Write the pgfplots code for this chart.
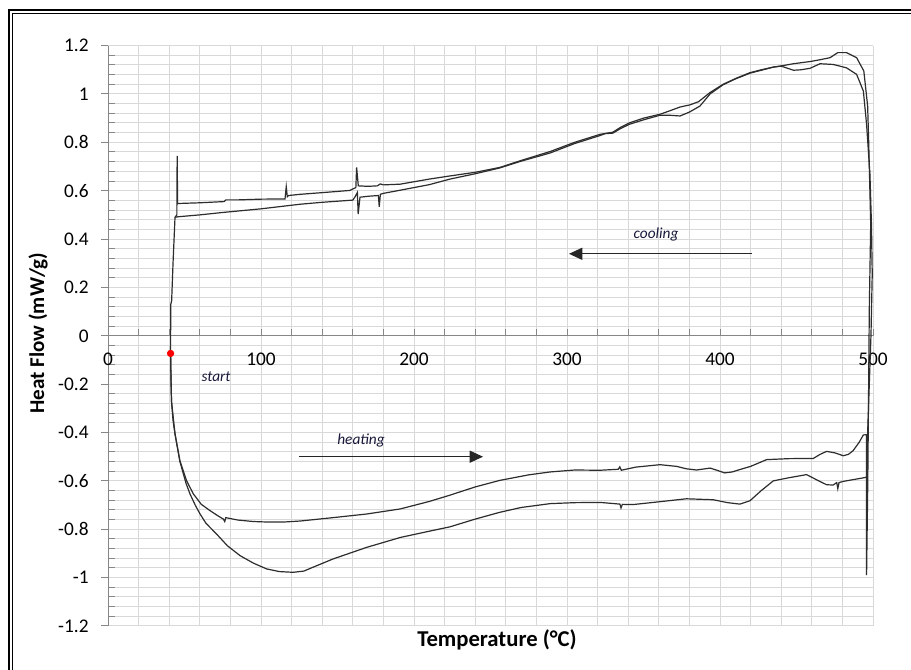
\documentclass[border=0pt]{standalone}
\usepackage{pgfplots}
\pgfplotsset{compat=1.18}
\usepackage{fontspec}
\setmainfont{Carlito}
\usetikzlibrary{arrows.meta}
\definecolor{gridgray}{RGB}{217,217,217}
\definecolor{axgray}{RGB}{134,134,134}
\definecolor{curve}{RGB}{45,45,45}
\definecolor{annot}{RGB}{25,25,60}
\begin{document}
\begin{tikzpicture}[x=1pt,y=1pt]
\useasboundingbox (0,0) rectangle (683.25,502.5);
\fill[white] (0,0) rectangle (683.25,502.5);
\draw[line width=1.6pt] (6.6,-5) -- (6.6,495) -- (690,495);
\draw[line width=0.6pt] (9.3,-5) -- (9.3,492.3) -- (690,492.3);
\begin{axis}[
  at={(81pt,33pt)}, anchor=south west,
  scale only axis, width=573.75pt, height=435.3pt,
  xmin=0, xmax=500, ymin=-1.2, ymax=1.2,
  axis x line*=middle, axis y line*=left,
  hide obscured x ticks=false, hide obscured y ticks=false,
  xtick={0,100,200,300,400,500}, minor x tick num=4,
  ytick={-1.2,-1.0,-0.8,-0.6,-0.4,-0.2,0,0.2,0.4,0.6,0.8,1.0,1.2}, minor y tick num=4,
  grid=both,
  major grid style={gridgray, line width=0.75pt},
  minor grid style={gridgray, line width=0.75pt},
  axis line style={axgray, line width=0.75pt},
  tick style={axgray, line width=0.75pt},
  major tick length=5pt, minor tick length=5pt,
  xtick align=inside, ytick align=outside,
  minor y tick style={xshift=5pt},
  tick label style={font=\fontsize{14.5}{17}\selectfont, text=black},
  /pgf/number format/assume math mode=true,
  yticklabel style={/pgf/number format/fixed, /pgf/number format/precision=1, xshift=-6pt},
  xticklabel style={yshift=-9pt},
  clip=false,
]
% cycle 1: heating (upper) then cooling
\addplot[curve, line width=0.9pt] table {
40.9 -0.073
41.2 -0.2
41.5 -0.27
42.5 -0.35
43.8 -0.406
47 -0.517
51.4 -0.6
55.8 -0.654
61 -0.697
66.7 -0.723
72 -0.745
75.4 -0.758
76.3 -0.768
77 -0.752
85 -0.762
95 -0.768
103.7 -0.770
115 -0.770
125.5 -0.766
147 -0.752
169 -0.737
191 -0.716
210 -0.685
223 -0.66
240 -0.625
256 -0.598
275 -0.575
289 -0.563
305 -0.555
321.6 -0.556
333.5 -0.552
334.5 -0.542
335.5 -0.556
345 -0.543
360.8 -0.533
371.7 -0.54
378 -0.55
384.7 -0.555
393.5 -0.547
398 -0.556
403 -0.567
408 -0.563
413 -0.553
420 -0.54
430.5 -0.512
445 -0.508
461 -0.507
465.5 -0.49
469.7 -0.478
475 -0.484
480.6 -0.496
484 -0.49
487 -0.475
491 -0.44
493.7 -0.41
495.8 -0.409
495.8 -0.99
496.6 -0.6
497.6 0.117
498.5 0.461
497.2 0.8
496.5 0.95
494 1.095
489.3 1.15
482.7 1.171
477 1.171
471.9 1.15
465 1.141
458.8 1.134
448 1.125
440 1.116
434.8 1.111
427 1.1
419.6 1.088
411 1.066
402 1.04
393.5 1.006
386 0.968
380.4 0.955
373.9 0.946
367 0.93
360.8 0.916
350 0.9
341 0.881
335 0.862
330 0.842
321.6 0.833
305 0.8
289 0.762
270 0.725
256 0.696
240 0.676
223.5 0.661
210 0.648
191 0.627
180 0.624
178 0.628
176 0.62
170 0.618
163.6 0.62
162.5 0.696
162 0.613
158 0.601
140 0.592
125.5 0.585
118 0.58
117.2 0.575
116.5 0.617
115.7 0.566
100 0.565
85 0.562
77 0.562
76 0.555
60 0.55
45.5 0.547
45.2 0.744
45.0 0.50
43.8 0.49
42.5 0.3
41.6 0.145
41 0.13
40.9 -0.073
};
% cycle 2: heating (lower) then cooling
\addplot[curve, line width=0.9pt] table {
40.9 -0.073
41.5 -0.27
43.8 -0.406
47 -0.52
51 -0.61
53.6 -0.654
57 -0.70
60 -0.735
64 -0.775
71 -0.82
78 -0.868
86.3 -0.909
95 -0.94
103.7 -0.964
112 -0.975
121 -0.978
128 -0.973
134 -0.957
147 -0.923
169 -0.875
191 -0.834
210 -0.808
223.5 -0.79
240 -0.758
256 -0.73
270 -0.71
289 -0.694
305 -0.69
321.6 -0.689
334.6 -0.696
335.3 -0.712
336.2 -0.697
343 -0.698
360.8 -0.686
378 -0.674
395.6 -0.678
405 -0.69
413 -0.696
419.6 -0.682
427 -0.64
434.8 -0.6
445 -0.587
456.6 -0.574
463 -0.595
469.7 -0.616
474 -0.617
476.3 -0.607
477 -0.632
477.8 -0.607
480.6 -0.602
495.8 -0.585
496.5 -0.4
498.7 0.007
499.5 0.255
499 0.461
498 0.668
495.8 0.875
493.7 1.012
489.3 1.081
482.7 1.108
474 1.122
465.4 1.125
458.8 1.106
453 1.1
448 1.098
440 1.115
434.8 1.111
427 1.098
419.6 1.086
410 1.062
402 1.038
393.5 1.0
386.9 0.95
380 0.925
373.9 0.909
367 0.912
360.8 0.912
350 0.893
341 0.875
335 0.857
330 0.838
325 0.836
321.6 0.828
305 0.795
289 0.756
270 0.722
256 0.694
240 0.67
223.5 0.648
210 0.625
191 0.602
180 0.589
178 0.585
177.3 0.533
176.7 0.58
170 0.577
164.7 0.573
163.5 0.503
163 0.593
161.5 0.575
160 0.561
140 0.552
125.5 0.544
100 0.525
75 0.51
60 0.5
45.5 0.492
44 0.49
};
\addplot[only marks, mark=*, mark size=2.5pt, color=red] coordinates {(40.9,-0.073)};
\draw[black!85, line width=1pt, -{Triangle[length=10pt,width=9pt]}] (axis cs:124.8,-0.5) -- (axis cs:245.1,-0.5);
\draw[black!85, line width=1pt, -{Triangle[length=10pt,width=9pt]}] (axis cs:420.9,0.339) -- (axis cs:301.3,0.339);
\node[annot, font=\fontsize{11.5}{13}\selectfont\itshape] at (axis cs:70.6,-0.169) {start};
\node[annot, font=\fontsize{11.5}{13}\selectfont\itshape] at (axis cs:165.4,-0.434) {heating};
\node[annot, font=\fontsize{11.5}{13}\selectfont\itshape] at (axis cs:358.2,0.417) {cooling};
\end{axis}
\node[font=\fontsize{17}{20}\selectfont\bfseries] at (372.75,22.5) {Temperature (°C)};
\node[font=\fontsize{15.8}{19}\selectfont\bfseries, rotate=90] at (28.5,252.75) {Heat Flow (mW/g)};
\end{tikzpicture}
\end{document}
